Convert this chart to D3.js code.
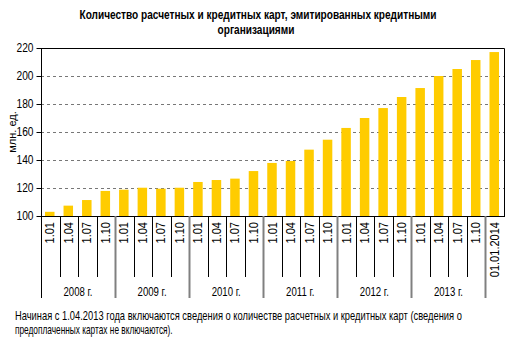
<!DOCTYPE html>
<html>
<head>
<meta charset="utf-8">
<script src="https://cdn.jsdelivr.net/npm/d3@7"></script>
<style>
  body { margin: 0; background: #fff; }
  svg text { font-family: "Liberation Sans", Arial, sans-serif; fill: #000; }
</style>
</head>
<body>
<div id="chart"></div>
<script>
// data
const quarters = ["1.01", "1.04", "1.07", "1.10"];
const years = ["2008 г.", "2009 г.", "2010 г.", "2011 г.", "2012 г.", "2013 г."];
const lastLabel = "01.01.2014";
const values = [103, 107.4, 111.4, 117.9, 118.8, 120.2, 119.5, 120.2,
                124.3, 125.7, 126.7, 132.1, 137.9, 139.3, 147.4, 154.5,
                162.9, 170.0, 177.1, 185.0, 191.4, 200.0, 205.0, 211.4, 217.1];
const yTicks = [100, 120, 140, 160, 180, 200, 220];
const titleLines = ["Количество расчетных и кредитных карт, эмитированных кредитными", "организациями"];
const yTitle = "млн. ед.";
const noteLines = ["Начиная с 1.04.2013 года включаются сведения о количестве расчетных и кредитных карт (сведения о",
                   "предоплаченных картах не включаются)."];

// build category labels
const labels = [];
years.forEach(() => quarters.forEach(q => labels.push(q)));
labels.push(lastLabel);
const ids = labels.map((d, i) => i);

const width = 517, height = 341;
const m = { left: 41, right: 504, top: 48, bottom: 216 };

const svg = d3.select("#chart").append("svg")
  .attr("width", width)
  .attr("height", height);

const x = d3.scaleBand().domain(ids).range([m.left, m.right]).padding(0);
const y = d3.scaleLinear().domain([100, 220]).range([m.bottom, m.top]);

// narrow the text a bit, the source font is condensed
function squeeze(sel, ratio) {
  sel.each(function() {
    const w = this.getComputedTextLength();
    d3.select(this)
      .attr("textLength", w * ratio)
      .attr("lengthAdjust", "spacingAndGlyphs");
  });
}

// grid
svg.append("g")
  .selectAll("line")
  .data(yTicks.filter(d => d > 100 && d < 220))
  .enter().append("line")
  .attr("x1", m.left).attr("x2", m.right)
  .attr("y1", d => Math.round(y(d)) + 0.5).attr("y2", d => Math.round(y(d)) + 0.5)
  .attr("stroke", "#777")
  .attr("stroke-dasharray", "3,3");

// bars
const barW = 9.5;
svg.append("g")
  .selectAll("rect")
  .data(values)
  .enter().append("rect")
  .attr("x", (d, i) => x(i) + x.bandwidth() / 2 - barW / 2 - 0.5)
  .attr("width", barW)
  .attr("y", d => y(d))
  .attr("height", d => m.bottom - y(d))
  .attr("fill", "#FFCC00");

// frame (top and right)
svg.append("path")
  .attr("d", `M${m.left},${m.top + 0.5}H${m.right + 0.5}V${m.bottom}`)
  .attr("fill", "none")
  .attr("stroke", "#000");

// y axis
const yAxis = svg.append("g")
  .attr("transform", `translate(${m.left + 0.5},0)`)
  .call(d3.axisLeft(y).tickValues(yTicks).tickSize(5).tickPadding(3));
yAxis.select(".domain").remove();
yAxis.selectAll("line").attr("stroke", "#000");
yAxis.selectAll("text").style("font-size", "12px").call(squeeze, 0.85);

// x axis line and left axis line extended below
svg.append("line")
  .attr("x1", m.left).attr("x2", m.right + 1)
  .attr("y1", m.bottom + 0.5).attr("y2", m.bottom + 0.5)
  .attr("stroke", "#000");
svg.append("line")
  .attr("x1", m.left + 0.5).attr("x2", m.left + 0.5)
  .attr("y1", m.top).attr("y2", 298)
  .attr("stroke", "#000");

// separators between categories
const seps = d3.range(1, labels.length);
svg.append("g")
  .selectAll("line")
  .data(seps)
  .enter().append("line")
  .attr("x1", d => Math.round(x(d)) + 0.5)
  .attr("x2", d => Math.round(x(d)) + 0.5)
  .attr("y1", m.bottom)
  .attr("y2", d => d % 4 === 0 ? 298 : 277)
  .attr("stroke", d => d % 4 === 0 ? "#808080" : "#000")
  .attr("stroke-width", d => d % 4 === 0 ? 2 : 1);

// category labels (rotated)
svg.append("g")
  .selectAll("text")
  .data(labels)
  .enter().append("text")
  .attr("transform", (d, i) => `translate(${x(i) + x.bandwidth() / 2 + 4},222) rotate(-90)`)
  .attr("text-anchor", "end")
  .style("font-size", "12px")
  .text(d => d)
  .call(squeeze, 0.92);

// year labels
svg.append("g")
  .selectAll("text")
  .data(years)
  .enter().append("text")
  .attr("x", (d, i) => (x(i * 4) + x(i * 4 + 3) + x.bandwidth()) / 2)
  .attr("y", 296)
  .attr("text-anchor", "middle")
  .style("font-size", "12px")
  .text(d => d)
  .call(squeeze, 0.8);

// y title
svg.append("text")
  .attr("transform", `translate(16,132) rotate(-90)`)
  .attr("text-anchor", "middle")
  .style("font-size", "11px")
  .text(yTitle);

// title
svg.append("g")
  .selectAll("text")
  .data(titleLines)
  .enter().append("text")
  .attr("x", (d, i) => i === 0 ? 258 : 256)
  .attr("y", (d, i) => 19 + i * 15)
  .attr("text-anchor", "middle")
  .style("font-size", "12px")
  .style("font-weight", "bold")
  .text(d => d)
  .call(squeeze, 0.84);

// footnote, scaled horizontally to the width it has in the source
const noteWidths = [447, 158];
svg.append("g")
  .selectAll("text")
  .data(noteLines)
  .enter().append("text")
  .style("font-size", "12px")
  .text(d => d)
  .each(function(d, i) {
    const k = noteWidths[i] / this.getComputedTextLength();
    d3.select(this).attr("transform", `translate(15,${320 + i * 14}) scale(${k},1)`);
  });
</script>
</body>
</html>
